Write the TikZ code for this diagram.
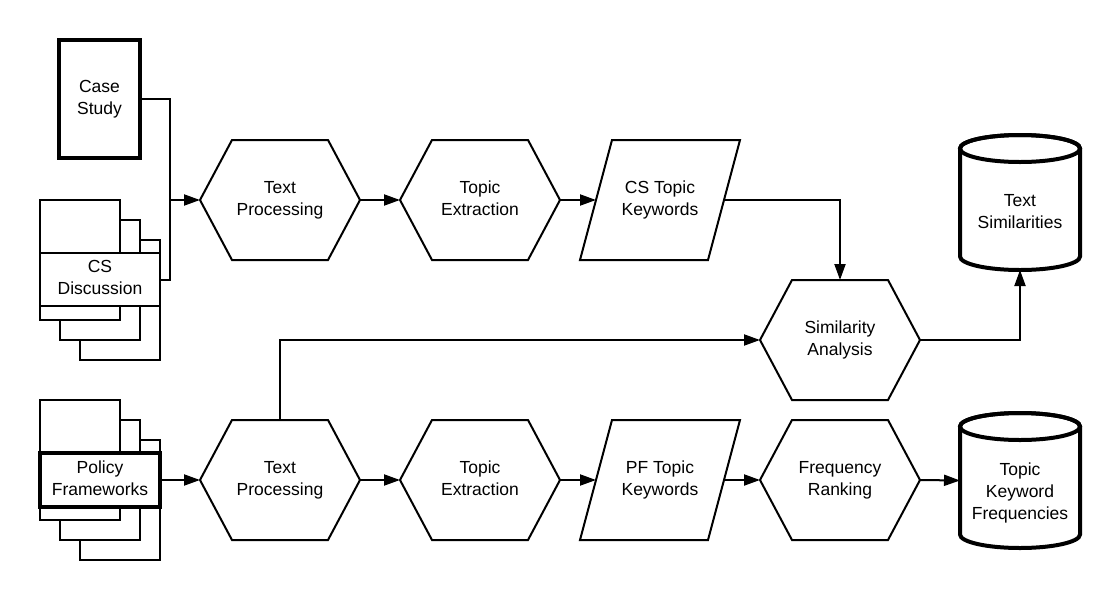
\documentclass[tikz,border=0pt]{standalone}
\usepackage{fontspec}
\setmainfont{Liberation Sans}
\usetikzlibrary{arrows.meta,calc}
\newcommand\drawhex[1]{\draw[ln] (#1.west) -- ([xshift=32pt]#1.north west) -- ([xshift=-32pt]#1.north east) -- (#1.east) -- ([xshift=-32pt]#1.south east) -- ([xshift=32pt]#1.south west) -- cycle;}
\newcommand\drawpar[1]{\draw[ln] ([xshift=32pt]#1.north west) -- (#1.north east) -- ([xshift=-32pt]#1.south east) -- (#1.south west) -- cycle;
  \coordinate (#1-l) at ([xshift=16pt]#1.west);
  \coordinate (#1-r) at ([xshift=-16pt]#1.east);}
\newcommand\drawcyl[1]{\draw[cylline] ([yshift=-13.5pt]#1.north west) -- ([yshift=13.5pt]#1.south west) arc[start angle=180,end angle=360,x radius=60pt,y radius=13.5pt] -- ([yshift=-13.5pt]#1.north east) arc[start angle=0,end angle=180,x radius=60pt,y radius=13.5pt] -- cycle;
  \draw[cylline] ([yshift=-13.5pt]#1.north) ellipse[x radius=60pt,y radius=13.5pt];}
\begin{document}
\begin{tikzpicture}[x=1pt,y=-1pt,
  every node/.style={font=\fontsize{17.5}{22}\selectfont, align=center, inner sep=0pt, outer sep=0pt,
    text depth=3.7pt},
  ln/.style={line width=2pt},
  arr/.style={line width=2pt, -{Triangle[length=16pt,width=11pt]}},
  sb/.style={rectangle, minimum width=160pt, minimum height=120pt},
  page/.style={draw, fill=white, line width=2pt},
  thickbox/.style={draw, fill=white, line width=4pt},
  cylline/.style={line width=4pt},
  cyl/.style={rectangle, minimum width=120pt, minimum height=135pt}]
\useasboundingbox (0,0) rectangle (1120,600);

% Case Study
\node[thickbox, minimum width=81pt, minimum height=118pt] (cs) at (99.5,99) {Case\\Study};

% CS Discussion stack
\draw[page] (80,240) rectangle (160,360);
\draw[page] (60,220) rectangle (140,340);
\draw[page] (40,200) rectangle (120,320);
\node[page, minimum width=120pt, minimum height=53pt] (csd) at (100,279.5) {CS\\Discussion};

% Policy Frameworks stack
\draw[page] (80,440) rectangle (160,560);
\draw[page] (60,420) rectangle (140,540);
\draw[page] (40,400) rectangle (120,520);
\node[thickbox, minimum width=120pt, minimum height=54pt] (pf) at (100,480) {Policy\\Frameworks};

% Top row
\node[sb] (tp1) at (280,200) {Text\\Processing};
\node[sb] (te1) at (480,200) {Topic\\Extraction};
\node[sb] (kw1) at (660,200) {CS Topic\\Keywords};
\drawhex{tp1}
\drawhex{te1}
\drawpar{kw1}

% Similarity
\node[sb] (sim) at (840,340) {Similarity\\Analysis};
\drawhex{sim}

% Bottom row
\node[sb] (tp2) at (280,480) {Text\\Processing};
\node[sb] (te2) at (480,480) {Topic\\Extraction};
\node[sb] (kw2) at (660,480) {PF Topic\\Keywords};
\node[sb] (fr) at (840,480) {Frequency\\Ranking};
\drawhex{tp2}
\drawhex{te2}
\drawpar{kw2}
\drawhex{fr}

% Cylinders
\node[cyl, label={[yshift=-11pt]center:Text\\Similarities}] (ts) at (1020,202.5) {};
\drawcyl{ts}
\node[cyl, label={[yshift=-13pt]center:Topic\\Keyword\\Frequencies}] (tkf) at (1020,480.5) {};
\drawcyl{tkf}

% Connectors
\coordinate (j) at (170,200);
\draw[ln] (cs.east) -| (j);
\draw[ln] (csd.east) -| (j);
\draw[arr] (j) -- (tp1.west);
\draw[arr] (tp1.east) -- (te1.west);
\draw[arr] (te1.east) -- (kw1-l);
\draw[arr] (kw1-r) -| (sim.north);
\draw[arr] (sim.east) -| (ts.south);
\draw[arr] (tp2.north) |- (sim.west);
\draw[arr] (pf.east) -- (tp2.west);
\draw[arr] (tp2.east) -- (te2.west);
\draw[arr] (te2.east) -- (kw2-l);
\draw[arr] (kw2-r) -- (fr.west);
\draw[arr] (fr.east) -- (tkf.west);
\end{tikzpicture}
\end{document}
